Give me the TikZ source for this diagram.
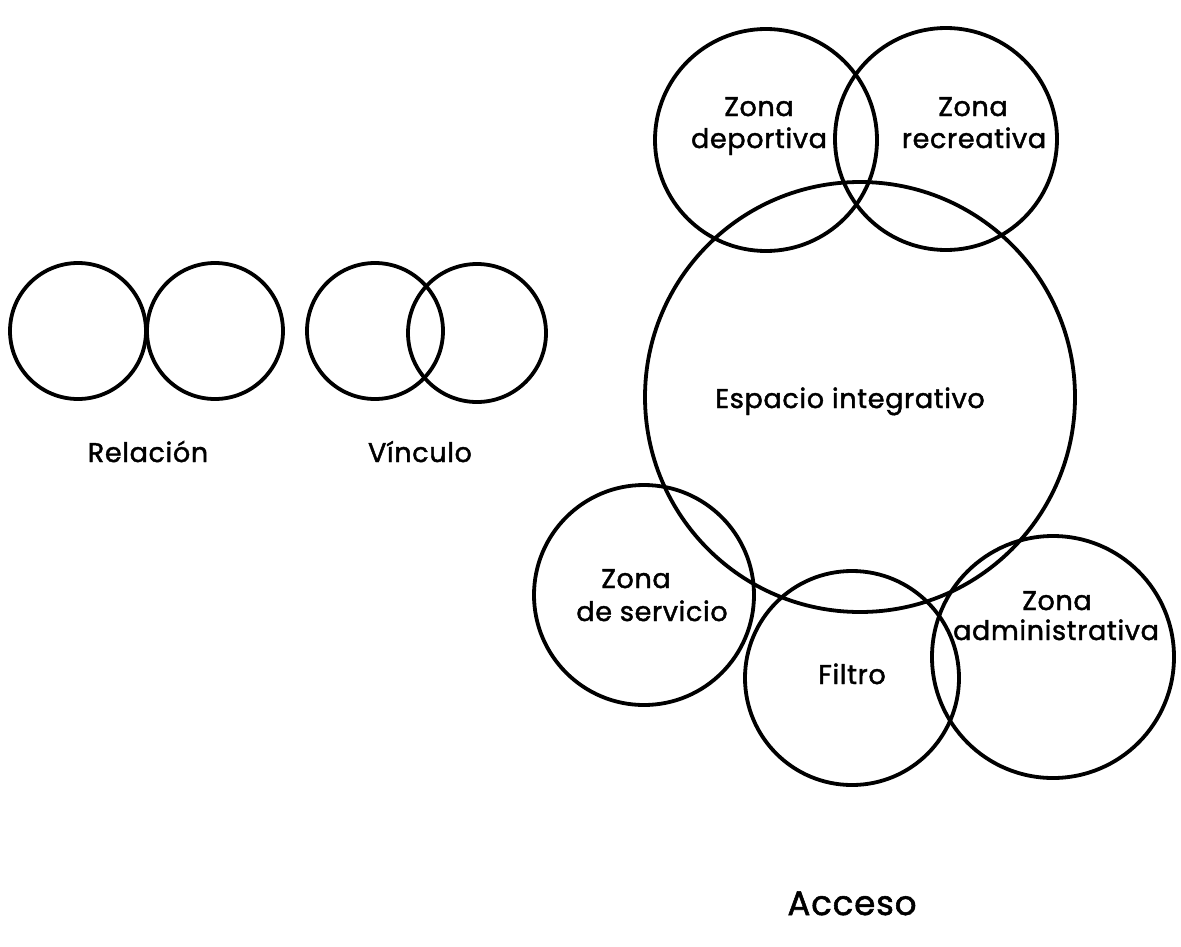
\documentclass[tikz,border=0pt]{standalone}
\usepackage{fontspec}
\setmainfont{Poppins}[FakeBold=1.6,LetterSpace=2.5]
\begin{document}
\begin{tikzpicture}[x=1pt,y=-1pt,
  ring/.style={draw=black,line width=3.8pt,circle,inner sep=0pt},
  lbl/.style={font=\fontsize{27}{33}\selectfont,inner sep=0pt,anchor=base}]
\useasboundingbox (0,0) rectangle (1181,946);
% legend
\node[ring,minimum size=136pt] (r1) at (78,331) {};
\node[ring,minimum size=136pt] (r2) at (215,331) {};
\node[ring,minimum size=136pt] (v1) at (375,331) {};
\node[ring,minimum size=138pt] (v2) at (477,333) {};
\node[lbl] (trel) at (148,462) {Relación};
\node[lbl] (tvin) at (420,462) {Vínculo};
% zones
\node[ring,minimum size=222pt] (dep) at (766,140) {};
\node[ring,minimum size=222pt] (rec) at (946,139) {};
\node[ring,minimum size=430pt] (esp) at (860,397) {};
\node[ring,minimum size=220pt] (ser) at (644,595) {};
\node[ring,minimum size=214pt] (fil) at (852,678) {};
\node[ring,minimum size=242pt] (adm) at (1053,657) {};
\node[lbl] (tdepa) at (759,116) {Zona};
\node[lbl] (tdepb) at (759,148) {deportiva};
\node[lbl] (treca) at (973,116) {Zona};
\node[lbl] (trecb) at (974,148) {recreativa};
\node[lbl] (tesp) at (850,408) {Espacio integrativo};
\node[lbl] (tsera) at (636,588) {Zona};
\node[lbl] (tserb) at (652,621) {de servicio};
\node[lbl] (tfil) at (852,684) {Filtro};
\node[lbl] (tadma) at (1057,610) {Zona};
\node[lbl] (tadmb) at (1056,640) {administrativa};
\node[lbl,font=\fontsize{34}{40}\selectfont] (tacc) at (852,915) {Acceso};
\end{tikzpicture}
\end{document}
